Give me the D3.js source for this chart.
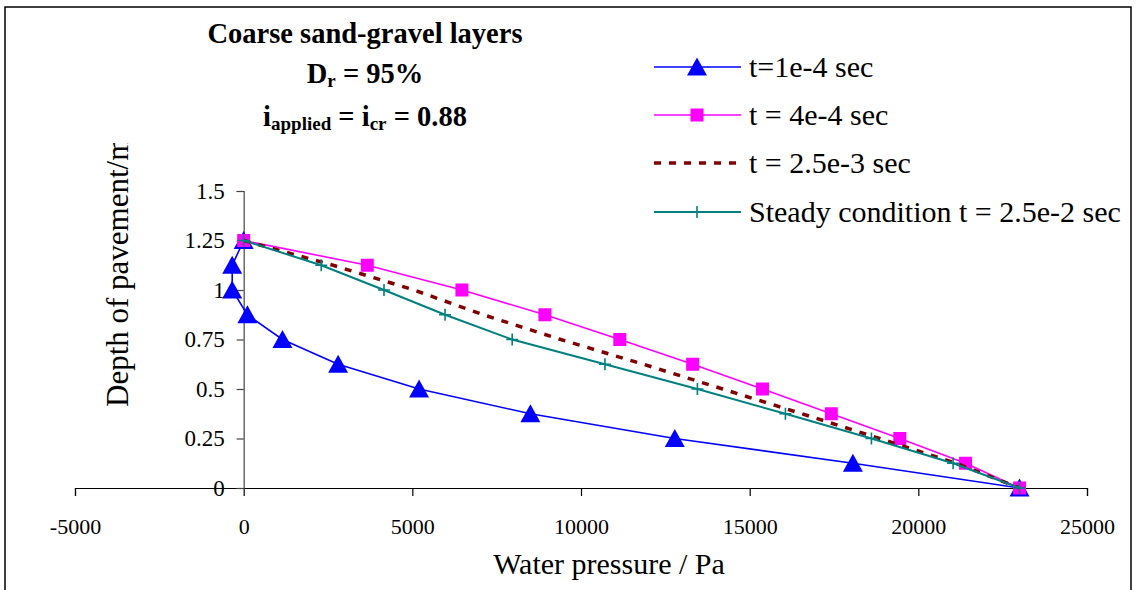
<!DOCTYPE html>
<html>
<head>
<meta charset="utf-8">
<script src="https://cdn.jsdelivr.net/npm/d3@7"></script>
<style>
  html, body { margin: 0; padding: 0; background: #fff; }
  svg { display: block; font-family: "Liberation Serif", "Times New Roman", serif; }
  text { font-family: "Liberation Serif", "Times New Roman", serif; fill: #000; }
</style>
</head>
<body>
<svg id="chart" width="1136" height="590"></svg>
<script>
// ---- data ----
const depth = [1.25, 1.125, 1.0, 0.875, 0.75, 0.625, 0.5, 0.375, 0.25, 0.125, 0];
const pT1e4 = [0, -340, -340, 110, 1150, 2800, 5200, 8500, 12780, 18060, 23000];
const pT4e4 = [0, 3665, 6470, 8930, 11150, 13310, 15380, 17420, 19450, 21400, 23000];
const pT25e3 = [0, 2650, 5050, 7100, 9400, 11850, 14200, 16550, 18850, 21120, 23000];
const pSteady = [0, 2300, 4160, 5970, 7960, 10710, 13450, 16060, 18610, 21030, 23000];
const seriesNames = ["t=1e-4 sec", "t = 4e-4 sec", "t = 2.5e-3 sec", "Steady condition t = 2.5e-2 sec"];
const xTicks = [-5000, 0, 5000, 10000, 15000, 20000, 25000];
const yTicks = [0, 0.25, 0.5, 0.75, 1, 1.25, 1.5];
const yTickLabels = ["0", "0.25", "0.5", "0.75", "1", "1.25", "1.5"];

const FONT = '"Liberation Serif", "Times New Roman", serif';
const svg = d3.select("#chart");

// outer frame
svg.append("rect").attr("x", 5).attr("y", 7).attr("width", 1126).attr("height", 600)
  .attr("fill", "none").attr("stroke", "#000").attr("stroke-width", 1.5);

const x = d3.scaleLinear().domain([-5000, 25000]).range([75, 1087]);
const y = d3.scaleLinear().domain([0, 1.5]).range([488, 191]);

// x axis
const xAxis = svg.append("g").attr("transform", `translate(0,${y(0)})`)
  .call(d3.axisBottom(x).tickValues(xTicks).tickFormat(d => String(d)).tickSizeOuter(0).tickSize(8).tickPadding(22));
xAxis.attr("font-family", null).attr("font-size", null);
xAxis.select(".domain").attr("stroke", "#000").attr("stroke-width", 1.2);
xAxis.selectAll(".tick line").attr("stroke", "#000").attr("stroke-width", 1.2);
xAxis.selectAll(".tick text").style("font-family", FONT).attr("font-size", 22).attr("fill", "#000");

// y axis
const yAxis = svg.append("g").attr("transform", `translate(${x(0)},0)`)
  .call(d3.axisLeft(y).tickValues(yTicks).tickFormat((d, i) => yTickLabels[i]).tickSizeOuter(0).tickSize(7).tickPadding(12));
yAxis.attr("font-family", null).attr("font-size", null);
yAxis.select(".domain").attr("stroke", "#444").attr("stroke-width", 1.2);
yAxis.selectAll(".tick line").attr("stroke", "#444").attr("stroke-width", 1.2);
yAxis.selectAll(".tick text").style("font-family", FONT).attr("font-size", 23).attr("fill", "#000");

// axis titles
svg.append("text").attr("x", 609).attr("y", 574).attr("text-anchor", "middle")
  .style("font-family", FONT).attr("font-size", 30).text("Water pressure / Pa");

svg.append("clipPath").attr("id", "ylabclip").append("rect")
  .attr("x", 0).attr("y", 143).attr("width", 200).attr("height", 400);
svg.append("g").attr("clip-path", "url(#ylabclip)")
  .append("text").attr("transform", "translate(128,407) rotate(-90)")
  .attr("text-anchor", "start").style("font-family", FONT).attr("font-size", 31).text("Depth of pavement/m");

// title block
const TS = 28.5, SS = 19;
const tg = svg.append("g").attr("font-weight", "bold").style("font-family", FONT);
tg.append("text").attr("x", 365).attr("y", 43).attr("text-anchor", "middle")
  .attr("font-size", TS).attr("font-weight", "bold").text("Coarse sand-gravel layers");
const t2 = tg.append("text").attr("x", 365).attr("y", 83).attr("text-anchor", "middle")
  .attr("font-size", TS).attr("font-weight", "bold");
t2.append("tspan").text("D");
t2.append("tspan").attr("font-size", SS).attr("dy", 4).text("r");
t2.append("tspan").attr("dy", -4).text(" = 95%");
const t3 = tg.append("text").attr("x", 365).attr("y", 126).attr("text-anchor", "middle")
  .attr("font-size", TS).attr("font-weight", "bold");
t3.append("tspan").text("i");
t3.append("tspan").attr("font-size", SS).attr("dy", 4).text("applied");
t3.append("tspan").attr("dy", -4).text(" = i");
t3.append("tspan").attr("font-size", SS).attr("dy", 4).text("cr");
t3.append("tspan").attr("dy", -4).text(" = 0.88");

// series
const series = [
  { name: seriesNames[0], vals: pT1e4, color: "#0000FF", width: 1.6, dash: null, marker: "tri" },
  { name: seriesNames[1], vals: pT4e4, color: "#FF00FF", width: 1.6, dash: null, marker: "sq" },
  { name: seriesNames[2], vals: pT25e3, color: "#800000", width: 3.5, dash: "7 8", marker: null },
  { name: seriesNames[3], vals: pSteady, color: "#008080", width: 2, dash: null, marker: "plus" }
];

const line = d3.line().x(d => x(d[0])).y(d => y(d[1]));

function drawMarker(g, type, cx, cy, color) {
  if (type === "tri") {
    g.append("path").attr("d", "M0,-9.5L10,8.5L-10,8.5Z").attr("transform", `translate(${cx},${cy})`).attr("fill", color);
  } else if (type === "sq") {
    g.append("rect").attr("x", cx - 6.5).attr("y", cy - 6.5).attr("width", 13).attr("height", 13).attr("fill", color);
  } else if (type === "plus") {
    g.append("path").attr("d", `M${cx-6},${cy}H${cx+6}M${cx},${cy-6}V${cy+6}`)
      .attr("stroke", color).attr("stroke-width", 1.6).attr("fill", "none");
  }
}

series.forEach(s => {
  const pts = s.vals.map((v, i) => [v, depth[i]]);
  const g = svg.append("g");
  g.append("path").attr("d", line(pts)).attr("fill", "none").attr("stroke", s.color)
    .attr("stroke-width", s.width).attr("stroke-dasharray", s.dash);
  if (s.marker) pts.forEach(p => drawMarker(g, s.marker, x(p[0]), y(p[1]), s.color));
});

// legend
const legY = [67, 115, 163, 212];
series.forEach((s, i) => {
  const g = svg.append("g");
  const ly = legY[i];
  g.append("line").attr("x1", 654).attr("x2", 741).attr("y1", ly).attr("y2", ly)
    .attr("stroke", s.color).attr("stroke-width", s.width).attr("stroke-dasharray", s.dash);
  if (s.marker) drawMarker(g, s.marker, 697, ly, s.color);
  g.append("text").attr("x", 749).attr("y", ly + 10).style("font-family", FONT).attr("font-size", 30).text(s.name);
});
</script>
</body>
</html>
